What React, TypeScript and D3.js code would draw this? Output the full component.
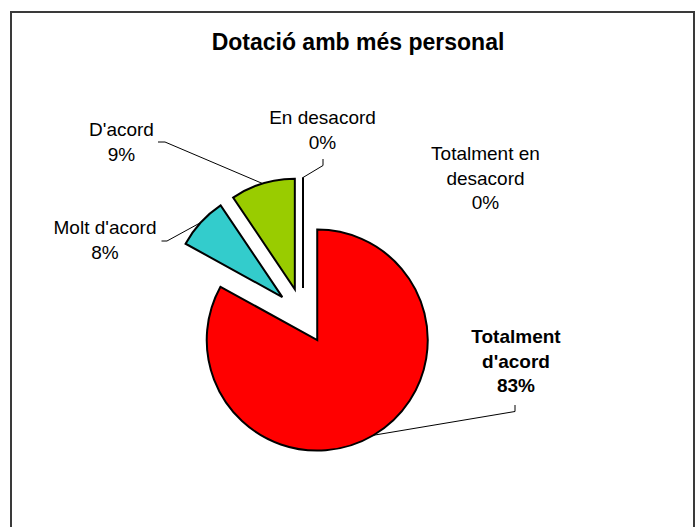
import React from "react";
import * as d3 from "d3";

const categories = ["Totalment d'acord", "Molt d'acord", "D'acord", "En desacord", "Totalment en desacord"];
const values = [83.02, 7.55, 9.43, 0, 0];
const colors = ["#FF0000", "#33CCCC", "#99CC00", "#FFFFFF", "#FFFFFF"];
const labelLines = [
  ["Totalment", "d'acord"],
  ["Molt d'acord"],
  ["D'acord"],
  ["En desacord"],
  ["Totalment en", "desacord"],
];
const title = "Dotació amb més personal";

const W = 695;
const H = 527;
const cx = 303;
const cy = 316;
const R = 110.5;
const explode = 28;
const lineH = 24.5;

// label layout: center x, first baseline, elbow path (relative to label) and whether leader shown
const labelLayout = [
  { x: 516, y: 343, bold: true, elbow: [[515, 411.5], [515, 405]] },
  { x: 105, y: 234, bold: false, elbow: [[167, 241], [161.5, 241]] },
  { x: 121.5, y: 136, bold: false, elbow: [[165, 142], [158, 142]] },
  { x: 322.5, y: 124, bold: false, elbow: [[323, 165.5], [323, 159]] },
  { x: 485.5, y: 160, bold: false, elbow: null },
];

export default function App() {
  const pie = d3.pie<number>().sort(null).value((d) => d).startAngle(0).endAngle(2 * Math.PI);
  const arcs = pie(values);
  const arcGen = d3.arc<d3.PieArcDatum<number>>().innerRadius(0).outerRadius(R);
  const total = d3.sum(values);

  return (
    <svg width={W} height={H} style={{ position: "absolute", left: 0, top: 0, background: "#fff" }}
      fontFamily="'Liberation Sans', Arial, sans-serif">
      <rect x={0} y={0} width={W} height={H} fill="#fff" />
      <path d={`M11,${H + 5} L11,12 L694,12 L694,${H + 5}`} fill="none" stroke="#3a3a3a" strokeWidth={2} />
      <text x={358} y={50} textAnchor="middle" fontSize={23} fontWeight="bold" fill="#000">{title}</text>
      {arcs.map((a, i) => {
        const mid = (a.startAngle + a.endAngle) / 2;
        const ox = cx + explode * Math.sin(mid);
        const oy = cy - explode * Math.cos(mid);
        return (
          <path key={"s" + i} d={arcGen(a) || ""} transform={`translate(${ox},${oy})`}
            fill={colors[i]} stroke="#000" strokeWidth={2} strokeLinejoin="miter" />
        );
      })}
      {arcs.map((a, i) => {
        const lay = labelLayout[i];
        if (!lay.elbow) return null;
        const mid = (a.startAngle + a.endAngle) / 2;
        const ox = cx + explode * Math.sin(mid);
        const oy = cy - explode * Math.cos(mid);
        const px = ox + R * Math.sin(mid);
        const py = oy - R * Math.cos(mid);
        const pts: [number, number][] = [[px, py], ...(lay.elbow as [number, number][])];
        return (
          <path key={"l" + i} d={d3.line()(pts) || ""} fill="none" stroke="#000" strokeWidth={1} />
        );
      })}
      {arcs.map((a, i) => {
        const lay = labelLayout[i];
        const pct = Math.round((values[i] / total) * 100) + "%";
        const lines = [...labelLines[i], pct];
        return (
          <text key={"t" + i} textAnchor="middle" fontSize={19} fontWeight={lay.bold ? "bold" : "normal"} fill="#000">
            {lines.map((ln, j) => (
              <tspan key={j} x={lay.x} y={lay.y + j * lineH}>{ln}</tspan>
            ))}
          </text>
        );
      })}
    </svg>
  );
}
